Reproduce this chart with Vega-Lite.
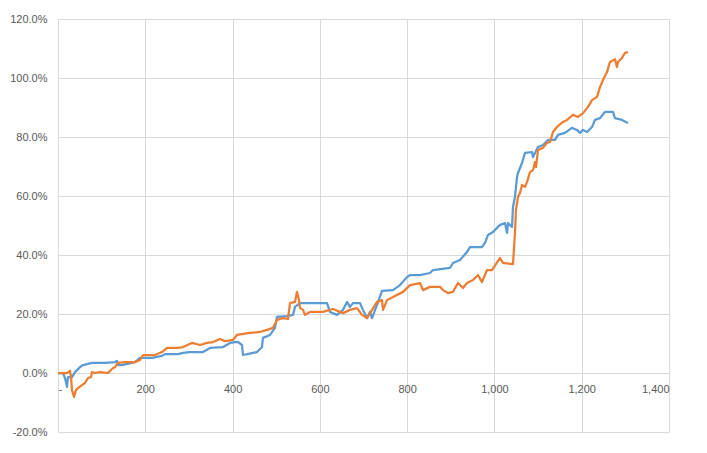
{
  "$schema": "https://vega.github.io/schema/vega-lite/v6.json",
  "width": 611,
  "height": 413,
  "autosize": "none",
  "padding": {"left": 58, "top": 19, "right": 38, "bottom": 21},
  "background": "white",
  "config": {
    "view": {"stroke": null},
    "axis": {"labelFont": "Liberation Sans", "labelFontSize": 11, "labelColor": "#595959", "gridColor": "#D9D9D9", "gridWidth": 1, "ticks": false, "tickSize": 0, "title": null}
  },
  "datasets": {
    "blue": [
      {"x":0,"y":0},{"x":11.5,"y":0},{"x":16,"y":-1.7},{"x":20.6,"y":-4.7},{"x":22.9,"y":-1.4},{"x":32.1,"y":-1.4},{"x":39,"y":0.3},{"x":50.4,"y":2.0},{"x":57.3,"y":2.7},{"x":77.9,"y":3.4},{"x":107.7,"y":3.4},{"x":130.6,"y":3.7},{"x":135.2,"y":4.1},{"x":137.5,"y":2.7},{"x":146.6,"y":2.7},{"x":176.4,"y":3.7},{"x":187.9,"y":5.1},{"x":215.4,"y":5.1},{"x":238.3,"y":5.8},{"x":245.2,"y":6.4},{"x":275,"y":6.4},{"x":286.4,"y":6.8},{"x":302.5,"y":7.1},{"x":332.2,"y":7.1},{"x":348.3,"y":8.5},{"x":378.1,"y":8.8},{"x":394.1,"y":10.2},{"x":405.6,"y":10.5},{"x":412.4,"y":10.5},{"x":421.6,"y":9.5},{"x":423.9,"y":6.1},{"x":456,"y":7.1},{"x":467.4,"y":8.8},{"x":469.7,"y":11.9},{"x":485.8,"y":12.9},{"x":497.2,"y":15.3},{"x":501.8,"y":19.0},{"x":524.7,"y":19.3},{"x":538.5,"y":19.7},{"x":543,"y":22.4},{"x":554.5,"y":23.7},{"x":616.4,"y":23.7},{"x":623.2,"y":20.7},{"x":639.3,"y":19.7},{"x":653,"y":21.4},{"x":662.2,"y":24.1},{"x":669.1,"y":22.4},{"x":675.9,"y":23.7},{"x":692,"y":23.7},{"x":698.8,"y":21.4},{"x":708,"y":18.6},{"x":714.9,"y":20.7},{"x":719.5,"y":18.6},{"x":731,"y":23.1},{"x":742.4,"y":27.8},{"x":767.6,"y":28.1},{"x":783.6,"y":29.8},{"x":799.7,"y":32.5},{"x":806.5,"y":33.2},{"x":829.5,"y":33.2},{"x":852.4,"y":33.9},{"x":859.2,"y":34.9},{"x":898.2,"y":35.6},{"x":905,"y":37.3},{"x":921.1,"y":38.3},{"x":937.1,"y":41},{"x":944,"y":42.7},{"x":971.5,"y":42.7},{"x":978.4,"y":44.1},{"x":985.3,"y":46.8},{"x":996.7,"y":47.8},{"x":1012.8,"y":50.2},{"x":1024.2,"y":50.8},{"x":1028.8,"y":47.5},{"x":1031.1,"y":50.8},{"x":1040.3,"y":49.5},{"x":1042.5,"y":56.3},{"x":1047.1,"y":59.7},{"x":1051.7,"y":66.4},{"x":1054,"y":67.8},{"x":1063.2,"y":71.2},{"x":1070,"y":74.6},{"x":1086.1,"y":74.9},{"x":1088.4,"y":73.2},{"x":1099.8,"y":76.6},{"x":1111.3,"y":77.3},{"x":1122.7,"y":79},{"x":1138.8,"y":79},{"x":1145.7,"y":80.7},{"x":1161.7,"y":81.4},{"x":1177.7,"y":83.1},{"x":1189.2,"y":82.4},{"x":1196,"y":81.4},{"x":1202.9,"y":82.4},{"x":1212.1,"y":81.7},{"x":1223.6,"y":83.4},{"x":1230.4,"y":85.8},{"x":1241.9,"y":86.4},{"x":1253.3,"y":88.5},{"x":1271.6,"y":88.5},{"x":1276.2,"y":86.4},{"x":1292.3,"y":85.8},{"x":1306,"y":84.7}
    ],
    "orange": [
      {"x":0,"y":0},{"x":20.6,"y":0},{"x":22.9,"y":0.3},{"x":27.5,"y":0.7},{"x":29.8,"y":-1.4},{"x":32.1,"y":-5.8},{"x":36.7,"y":-8.1},{"x":41.2,"y":-5.8},{"x":45.8,"y":-5.1},{"x":55,"y":-4.1},{"x":61.9,"y":-3.4},{"x":68.7,"y":-1.7},{"x":75.6,"y":-1.4},{"x":77.9,"y":0.3},{"x":84.8,"y":0},{"x":96.2,"y":0.3},{"x":114.6,"y":0},{"x":126,"y":1.7},{"x":130.6,"y":2.0},{"x":137.5,"y":3.4},{"x":153.5,"y":3.7},{"x":176.4,"y":3.7},{"x":187.9,"y":4.4},{"x":194.8,"y":6.1},{"x":210.8,"y":6.1},{"x":222.3,"y":6.1},{"x":238.3,"y":7.1},{"x":249.8,"y":8.5},{"x":275,"y":8.5},{"x":286.4,"y":8.8},{"x":307,"y":10.2},{"x":325.4,"y":9.5},{"x":341.4,"y":10.2},{"x":355.2,"y":10.5},{"x":371.2,"y":11.5},{"x":382.7,"y":10.8},{"x":401,"y":11.2},{"x":410.1,"y":12.9},{"x":439.9,"y":13.6},{"x":462.8,"y":13.9},{"x":478.9,"y":14.6},{"x":492.6,"y":15.3},{"x":501.8,"y":18},{"x":515.5,"y":18.6},{"x":527,"y":18.3},{"x":531.6,"y":23.7},{"x":543,"y":24.1},{"x":547.6,"y":27.5},{"x":552.2,"y":24.7},{"x":554.5,"y":22},{"x":561.4,"y":21.4},{"x":566,"y":19.7},{"x":577.4,"y":20.7},{"x":607.2,"y":20.7},{"x":630.1,"y":21.7},{"x":653,"y":20.3},{"x":669.1,"y":21.4},{"x":685.1,"y":22},{"x":696.6,"y":19.7},{"x":708,"y":18.6},{"x":714.9,"y":20.3},{"x":731,"y":24.1},{"x":742.4,"y":24.7},{"x":744.7,"y":21.4},{"x":753.9,"y":24.7},{"x":767.6,"y":25.8},{"x":790.5,"y":27.5},{"x":806.5,"y":29.8},{"x":829.5,"y":30.5},{"x":836.3,"y":28.1},{"x":852.4,"y":29.2},{"x":875.3,"y":29.2},{"x":882.1,"y":28.1},{"x":893.6,"y":27.1},{"x":905,"y":27.5},{"x":916.5,"y":30.5},{"x":928,"y":28.8},{"x":937.1,"y":30.5},{"x":950.9,"y":31.5},{"x":962.3,"y":33.2},{"x":971.5,"y":30.8},{"x":983,"y":34.9},{"x":994.4,"y":34.9},{"x":1012.8,"y":39},{"x":1019.6,"y":37.3},{"x":1042.5,"y":36.9},{"x":1047.1,"y":47.5},{"x":1049.4,"y":55.3},{"x":1054,"y":59.7},{"x":1058.6,"y":61},{"x":1063.2,"y":63.7},{"x":1070,"y":63.1},{"x":1074.6,"y":64.7},{"x":1081.5,"y":68.1},{"x":1088.4,"y":68.8},{"x":1093,"y":71.5},{"x":1095.3,"y":69.8},{"x":1099.8,"y":75.6},{"x":1111.3,"y":76.3},{"x":1120.4,"y":78},{"x":1127.3,"y":78.3},{"x":1134.2,"y":81.7},{"x":1143.3,"y":83.4},{"x":1157.1,"y":85.1},{"x":1166.3,"y":85.8},{"x":1180,"y":87.5},{"x":1191.5,"y":86.8},{"x":1203,"y":88.1},{"x":1214.4,"y":90.2},{"x":1223.6,"y":92.5},{"x":1235,"y":93.6},{"x":1241.9,"y":96.9},{"x":1248.8,"y":99.3},{"x":1257.9,"y":102},{"x":1264.8,"y":105.4},{"x":1276.2,"y":106.4},{"x":1280.8,"y":103.7},{"x":1283.1,"y":105.4},{"x":1292.3,"y":106.8},{"x":1299.2,"y":108.5},{"x":1306,"y":108.8}
    ]
  },
  "layer": [
    {
      "data": {"name": "blue"},
      "mark": {"type": "line", "color": "#5B9BD5", "strokeWidth": 2.25, "strokeJoin": "round"},
      "encoding": {
        "x": {"field": "x", "type": "quantitative",
          "scale": {"domain": [0, 1400], "nice": false, "zero": false},
          "axis": {"values": [0,200,400,600,800,1000,1200,1400], "grid": true, "domain": false, "offset": -59, "labelPadding": 10,
            "labelExpr": "datum.value == 0 ? '-' : format(datum.value, ',')"}},
        "y": {"field": "y", "type": "quantitative",
          "scale": {"domain": [-20, 120], "nice": false, "zero": false},
          "axis": {"values": [-20,0,20,40,60,80,100,120], "grid": true, "domain": false, "labelPadding": 11,
            "labelExpr": "replace(format(datum.value, '.1f'), '−', '-') + '%'"}}
      }
    },
    {
      "data": {"name": "orange"},
      "mark": {"type": "line", "color": "#ED7D31", "strokeWidth": 2.25, "strokeJoin": "round"},
      "encoding": {
        "x": {"field": "x", "type": "quantitative"},
        "y": {"field": "y", "type": "quantitative"}
      }
    }
  ]
}
